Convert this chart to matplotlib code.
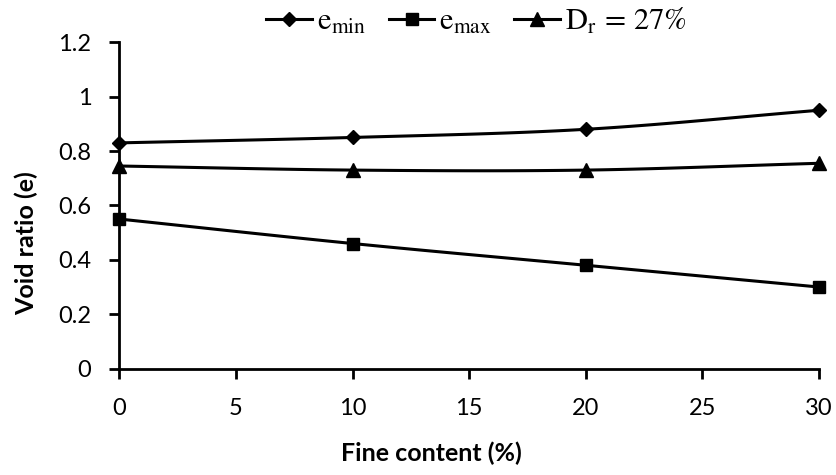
import numpy as np
import matplotlib
matplotlib.use("Agg")
import matplotlib.pyplot as plt

plt.rcParams['font.family'] = ['Lato', 'DejaVu Sans']
plt.rcParams['mathtext.fontset'] = 'stix'

fine_content = [0, 10, 20, 30]
e_min = [0.83, 0.85, 0.88, 0.95]
e_max = [0.55, 0.46, 0.38, 0.30]
dr_27 = [0.745, 0.73, 0.73, 0.755]

series_labels = [r'$\mathrm{e_{min}}$', r'$\mathrm{e_{max}}$', r'$\mathrm{D_r}\,=\,27\%$']
x_ticks = [0, 5, 10, 15, 20, 25, 30]
y_ticks = [0, 0.2, 0.4, 0.6, 0.8, 1, 1.2]
y_tick_labels = ['0', '0.2', '0.4', '0.6', '0.8', '1', '1.2']


def smooth_curve(x, y, n=40):
    """Catmull-Rom style smoothing between successive points."""
    x = np.asarray(x, float)
    y = np.asarray(y, float)
    px = np.concatenate([[2 * x[0] - x[1]], x, [2 * x[-1] - x[-2]]])
    py = np.concatenate([[2 * y[0] - y[1]], y, [2 * y[-1] - y[-2]]])
    xs, ys = [], []
    for i in range(1, len(px) - 2):
        t = np.linspace(0, 1, n)
        for arr, out in ((px, xs), (py, ys)):
            p0, p1, p2, p3 = arr[i - 1], arr[i], arr[i + 1], arr[i + 2]
            c = 0.5 * ((2 * p1) + (-p0 + p2) * t + (2 * p0 - 5 * p1 + 4 * p2 - p3) * t ** 2
                       + (-p0 + 3 * p1 - 3 * p2 + p3) * t ** 3)
            out.extend(c)
    return np.array(xs), np.array(ys)


fig = plt.figure(figsize=(8.37, 4.75), dpi=100)
ax = fig.add_axes([0.1425, 0.224, 0.836, 0.687])

handles = []
for ys, marker, ms, label in [(e_min, 'D', 7, series_labels[0]),
                              (e_max, 's', 9, series_labels[1]),
                              (dr_27, '^', 10, series_labels[2])]:
    sx, sy = smooth_curve(fine_content, ys)
    ax.plot(sx, sy, color='black', lw=2.2, zorder=2, clip_on=False)
    ax.plot(fine_content, ys, linestyle='none', marker=marker, ms=ms,
            color='black', zorder=3, clip_on=False)
    h, = ax.plot([], [], color='black', lw=2.2, marker=marker, ms=ms, label=label)
    handles.append(h)

ax.set_xlim(0, 30)
ax.set_ylim(0, 1.2)
ax.set_xticks(x_ticks)
ax.set_yticks(y_ticks)
ax.set_yticklabels(y_tick_labels)
for s in ['top', 'right']:
    ax.spines[s].set_visible(False)
for s in ['left', 'bottom']:
    ax.spines[s].set_linewidth(2)
ax.tick_params(direction='out', length=7, width=2, labelsize=17)
ax.tick_params(axis='y', pad=13)
ax.tick_params(axis='x', pad=14)

fig.text(0.515, 0.046, 'Fine content (%)', fontsize=18, fontweight='bold',
         ha='center', va='center')
fig.text(0.032, 0.488, 'Void ratio (e)', fontsize=18, fontweight='bold',
         ha='center', va='center', rotation=90)

fig.legend(handles=handles, loc='center', bbox_to_anchor=(0.569, 0.957),
           ncol=3, frameon=False, fontsize=22, handlelength=1.5,
           handletextpad=0.15, columnspacing=0.75)

fig.savefig('out.png', dpi=100)
